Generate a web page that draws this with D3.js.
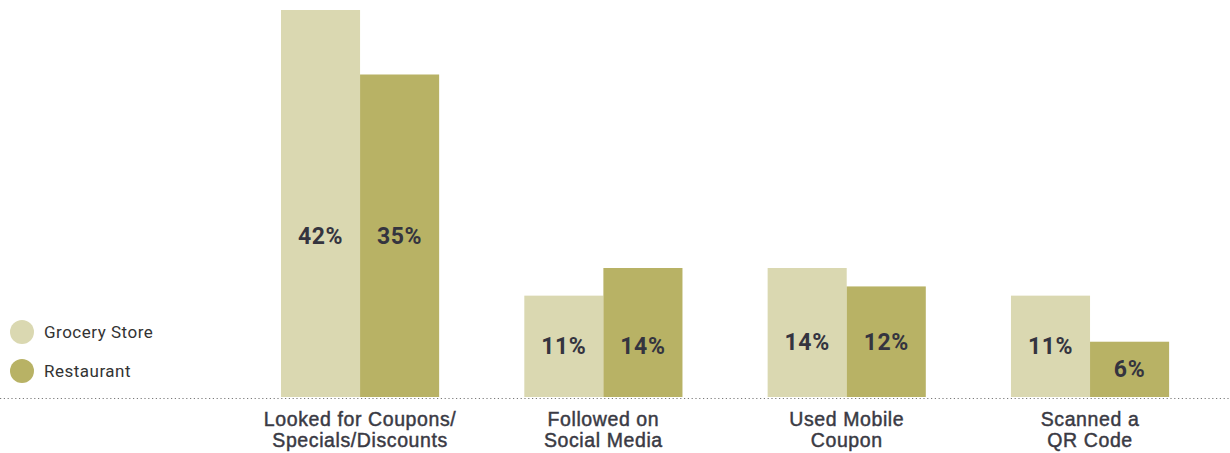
<!DOCTYPE html>
<html>
<head>
    <style>
    body { margin: 0; background: #fff; }
    svg { display: block; font-family: Roboto, "DejaVu Sans", sans-serif; }
    </style>
</head>
<body>
    <svg width="1230" height="453"></svg>
    <script src="https://d3js.org/d3.v7.min.js"></script>
    <script>

        var categories = [
            ["Looked for Coupons/", "Specials/Discounts"],
            ["Followed on", "Social Media"],
            ["Used Mobile", "Coupon"],
            ["Scanned a", "QR Code"]
        ];
        var seriesNames = ["Grocery Store", "Restaurant"];
        var grocery = [42, 11, 14, 11];
        var restaurant = [35, 14, 12, 6];
        var colors = ["#dad8b1", "#b8b265"];

        var svg = d3.select("svg"),
            baseline = 397;

        var keys = categories.map(function (c) { return c.join(" "); });

        var x = d3.scaleBand()
            .domain(keys)
            .range([238.4, 1211.7])
            .paddingInner(0.35)
            .paddingOuter(0.175);

        var xs = d3.scaleBand()
            .domain(seriesNames)
            .range([0, x.bandwidth()]);

        var y = d3.scaleLinear()
            .domain([0, 42])
            .range([baseline, 10]);

        var rows = keys.map(function (k, i) {
            return { key: k, values: [grocery[i], restaurant[i]] };
        });

        // baseline, dotted
        svg.append("line")
            .attr("x1", 0).attr("x2", 1230)
            .attr("y1", baseline + 1.5).attr("y2", baseline + 1.5)
            .attr("stroke", "#7a7a7a")
            .attr("stroke-width", 1.2)
            .attr("stroke-dasharray", "1.2,2.6");

        var g = svg.selectAll(".grp")
            .data(rows)
            .enter().append("g")
            .attr("class", "grp")
            .attr("transform", function (d) { return "translate(" + x(d.key) + ",0)"; });

        g.selectAll("rect")
            .data(function (d) {
                return d.values.map(function (v, j) { return { s: seriesNames[j], v: v, j: j }; });
            })
            .enter().append("rect")
            .attr("x", function (d) { return xs(d.s); })
            .attr("y", function (d) { return y(d.v); })
            .attr("width", xs.bandwidth())
            .attr("height", function (d) { return baseline - y(d.v); })
            .attr("fill", function (d) { return colors[d.j]; });

        // value labels: aligned to the shorter bar unless it is much shorter
        g.each(function (d) {
            var lo = d3.min(d.values), hi = d3.max(d.values);
            d3.select(this).selectAll("text.val")
                .data(d.values)
                .enter().append("text")
                .attr("class", "val")
                .attr("x", function (v, j) { return xs(seriesNames[j]) + xs.bandwidth() / 2; })
                .attr("y", function (v) {
                    var ref = lo / hi > 0.6 ? lo : v;
                    return (baseline + y(ref)) / 2;
                })
                .attr("dy", "0.35em")
                .attr("text-anchor", "middle")
                .attr("font-size", 23)
                .attr("font-weight", 700)
                .attr("letter-spacing", 0.6)
                .attr("fill", "#34343f")
                .text(function (v) { return v + "%"; });
        });

        // category labels
        var xAxis = svg.append("g")
            .attr("transform", "translate(0," + baseline + ")")
            .call(d3.axisBottom(x).tickSize(0).tickFormat(""));
        xAxis.select(".domain").remove();

        xAxis.selectAll(".tick").each(function (k, i) {
            var t = d3.select(this).append("text")
                .attr("text-anchor", "middle")
                .attr("font-size", 19.5)
                .attr("font-weight", 500)
                .attr("letter-spacing", 0.6)
                .attr("fill", "#3a3a44")
                .attr("stroke", "#3a3a44")
                .attr("stroke-width", 0.45);
            categories[i].forEach(function (line, n) {
                t.append("tspan")
                    .attr("x", 0)
                    .attr("y", 29 + n * 21)
                    .text(line);
            });
        });

        // legend
        var legend = svg.selectAll(".leg")
            .data(seriesNames)
            .enter().append("g")
            .attr("class", "leg")
            .attr("transform", function (d, i) { return "translate(22," + (332 + i * 39) + ")"; });

        legend.append("circle")
            .attr("r", 12)
            .attr("fill", function (d, i) { return colors[i]; });

        legend.append("text")
            .attr("x", 22)
            .attr("dy", "0.35em")
            .attr("font-size", 17)
            .attr("letter-spacing", 0.5)
            .attr("fill", "#333")
            .text(function (d) { return d; });

    </script>
</body>
</html>
